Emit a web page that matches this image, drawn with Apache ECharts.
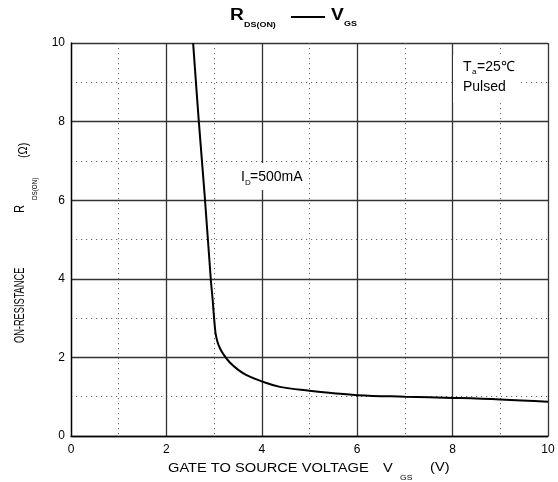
<!DOCTYPE html>
<html>
<head>
<meta charset="utf-8">
<script src="https://cdn.jsdelivr.net/npm/echarts@6/dist/echarts.min.js"></script>
<style>
  html, body { margin: 0; padding: 0; background: #fff; }
  #chart { width: 558px; height: 482px; }
</style>
</head>
<body>
<div id="chart"></div>
<script>
// curve: gate voltage (V) vs on-resistance (ohm)
const vgs = [2.56, 2.68, 2.81, 2.93, 2.97, 3.0, 3.03, 3.07, 3.12, 3.2, 3.33, 3.5, 3.68, 4.0, 4.38, 5.0, 5.5, 6.0, 7.0, 8.0, 9.0, 10.0];
const rds = [10, 8, 6, 4, 3.46, 3.0, 2.62, 2.4, 2.24, 2.07, 1.87, 1.69, 1.55, 1.39, 1.25, 1.15, 1.09, 1.04, 1.0, 0.97, 0.93, 0.87];
const xTicks = [0, 2, 4, 6, 8, 10];
const yTicks = [0, 2, 4, 6, 8, 10];

const FONT = '"Liberation Sans", Arial, sans-serif';

// text helper: left anchored, vertically centred at (x, y)
function txt(str, x, y, size, opt) {
  opt = opt || {};
  return {
    type: 'text',
    x: x, y: y,
    rotation: opt.rot || 0,
    scaleX: opt.sx || 1,
    z: 100,
    style: {
      text: str,
      x: 0, y: 0,
      fill: '#000',
      font: (opt.bold ? 'bold ' : '') + size + 'px ' + FONT,
      textAlign: 'left',
      textVerticalAlign: 'middle'
    }
  };
}

function whiteBox(x, y, w, h) {
  return {
    type: 'rect', z: 50,
    shape: { x: x, y: y, width: w, height: h },
    style: { fill: '#fff' }
  };
}

const chart = echarts.init(document.getElementById('chart'), null, { renderer: 'canvas' });

const gridLine = { color: '#333', width: 1.3 };
const dotLine = { color: '#666', width: 1, type: [1.2, 3.8] };

const option = {
  animation: false,
  backgroundColor: '#fff',
  grid: { left: 71, right: 10, top: 43, bottom: 46 },
  xAxis: {
    type: 'value', min: 0, max: 10, interval: 2,
    axisLine: { show: true, lineStyle: { color: '#000', width: 1.3 } },
    axisTick: { show: false },
    axisLabel: {
      color: '#000', fontSize: 12, fontFamily: FONT, margin: 8,
      formatter: v => xTicks.includes(v) ? String(v) : ''
    },
    splitLine: { show: true, lineStyle: gridLine },
    minorTick: { show: false, splitNumber: 2 },
    minorSplitLine: { show: true, lineStyle: dotLine }
  },
  yAxis: {
    type: 'value', min: 0, max: 10, interval: 2,
    axisLine: { show: true, lineStyle: { color: '#000', width: 1.3 } },
    axisTick: { show: false },
    axisLabel: {
      color: '#000', fontSize: 12, fontFamily: FONT, margin: 6,
      formatter: v => yTicks.includes(v) ? String(v) : ''
    },
    splitLine: { show: true, lineStyle: gridLine },
    minorTick: { show: false, splitNumber: 2 },
    minorSplitLine: { show: true, lineStyle: dotLine }
  },
  series: [{
    type: 'line',
    data: vgs.map((v, i) => [v, rds[i]]),
    smooth: 0.4,
    showSymbol: false,
    clip: true,
    z: 10,
    lineStyle: { color: '#000', width: 2 }
  }],
  graphic: [
    // title  R_DS(ON) —— V_GS
    txt('R', 230, 16, 16, { bold: true, sx: 1.2 }),
    txt('DS(ON)', 244, 25, 8, { bold: true, sx: 1.12 }),
    { type: 'line', z: 100, shape: { x1: 291, y1: 17, x2: 325, y2: 17 }, style: { stroke: '#000', lineWidth: 2 } },
    txt('V', 331, 16, 16, { bold: true, sx: 1.2 }),
    txt('GS', 344, 24, 8, { bold: true, sx: 1.12 }),
    // x axis title
    txt('GATE TO SOURCE VOLTAGE', 168, 469, 12, { sx: 1.22 }),
    txt('V', 383, 469, 12, { sx: 1.22 }),
    txt('GS', 400, 478, 7, { sx: 1.22 }),
    txt('(V)', 430, 468, 12, { sx: 1.22 }),
    // y axis title (rotated)
    txt('ON-RESISTANCE', 20, 343, 14, { rot: Math.PI / 2, sx: 0.66 }),
    txt('R', 20, 213, 14, { rot: Math.PI / 2, sx: 0.8 }),
    txt('DS(ON)', 35, 200, 7, { rot: Math.PI / 2, sx: 0.9 }),
    txt('(Ω)', 24, 158, 12, { rot: Math.PI / 2, sx: 0.9 }),
    // annotations with white backing
    whiteBox(238, 163, 68, 27),
    txt('I', 241, 177, 14),
    txt('D', 245, 183, 8),
    txt('=500mA', 250, 177, 14),
    whiteBox(453, 55, 65, 48),
    txt('T', 463, 67, 14),
    txt('a', 472, 72, 8),
    txt('=25℃', 477, 67, 14),
    txt('Pulsed', 463, 87, 14)
  ]
};

chart.setOption(option);
</script>
</body>
</html>
